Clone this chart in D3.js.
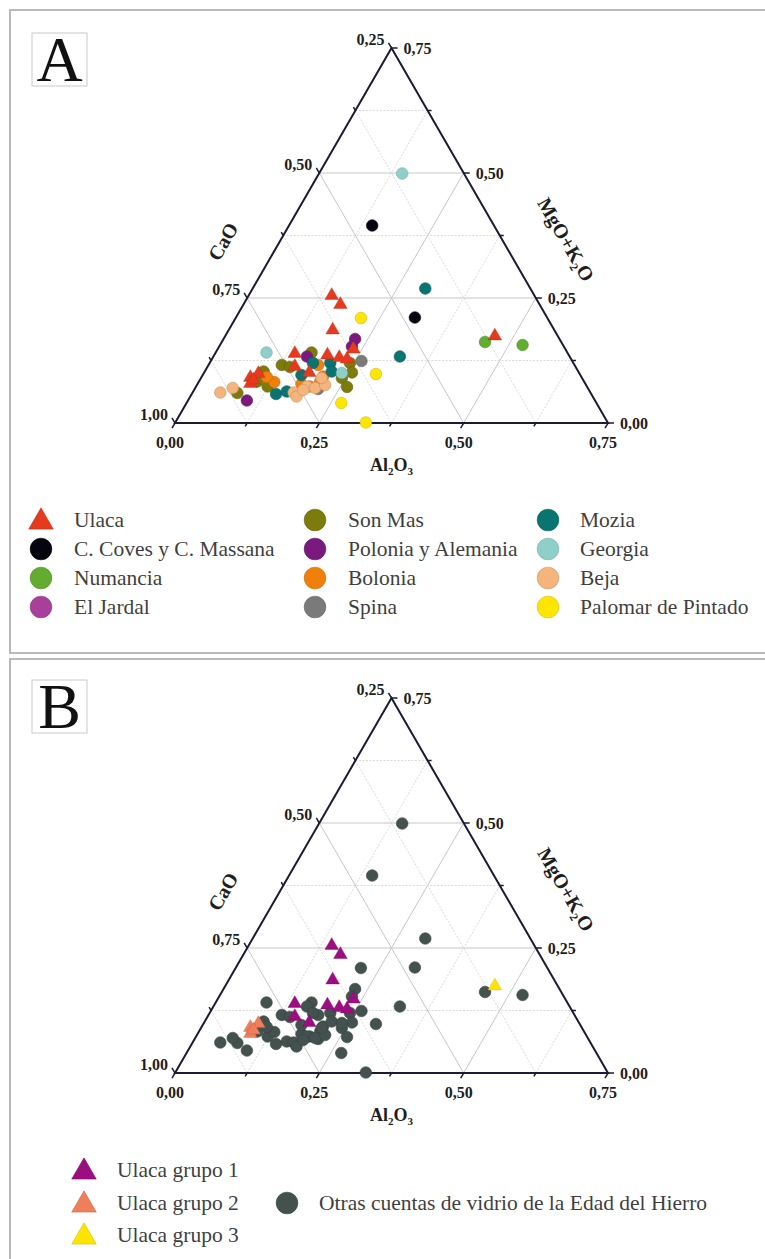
<!DOCTYPE html>
<html>
<head>
<meta charset="utf-8">
<script src="https://cdn.jsdelivr.net/npm/d3@7/dist/d3.min.js"></script>
<style>
  body { margin: 0; background: #fff; }
  svg { display: block; }
</style>
</head>
<body>
<div id="chart"></div>
<script>
// every point is [Al2O3, MgO+K2O]; CaO = 1 - Al2O3 - (MgO+K2O)
const ulacaGrupo1 = [[0.143, 0.257], [0.167, 0.239], [0.179, 0.188], [0.137, 0.141], [0.195, 0.138],
                     [0.218, 0.133], [0.233, 0.130], [0.234, 0.150], [0.150, 0.115], [0.181, 0.103]];
const ulacaGrupo2 = [[0.084, 0.093], [0.094, 0.101], [0.090, 0.081], [0.092, 0.088]];
const ulacaGrupo3 = [[0.466, 0.176]];

const coves    = [[0.144, 0.395], [0.310, 0.211]];
const numancia = [[0.456, 0.162], [0.524, 0.156]];
const jardal   = [[0.101, 0.098]];
const sonMas   = [[0.166, 0.141], [0.127, 0.116], [0.143, 0.112], [0.243, 0.120], [0.256, 0.101], [0.244, 0.090],
                  [0.262, 0.072], [0.078, 0.060], [0.101, 0.083], [0.102, 0.103], [0.124, 0.073]];
const polonia  = [[0.162, 0.133], [0.228, 0.168], [0.230, 0.153], [0.102, 0.045]];
const bolonia  = [[0.190, 0.116], [0.210, 0.093], [0.180, 0.078], [0.197, 0.073], [0.210, 0.083], [0.131, 0.082], [0.113, 0.092]];
const spina    = [[0.261, 0.124], [0.214, 0.068]];
const mozia    = [[0.299, 0.269], [0.323, 0.133], [0.171, 0.096], [0.209, 0.120], [0.220, 0.103], [0.146, 0.058],
                  [0.162, 0.063], [0.179, 0.120]];
const georgia  = [[0.144, 0.499], [0.088, 0.141], [0.239, 0.100]];
const beja     = [[0.192, 0.073], [0.208, 0.070], [0.222, 0.076], [0.175, 0.061], [0.184, 0.053], [0.189, 0.066],
                  [0.209, 0.090], [0.048, 0.061], [0.065, 0.070]];
const palomar  = [[0.217, 0.210], [0.299, 0.098], [0.268, 0.040], [0.330, 0.001]];

const sitesA  = ['Ulaca', 'C. Coves y C. Massana', 'Numancia', 'El Jardal', 'Son Mas', 'Polonia y Alemania',
                 'Bolonia', 'Spina', 'Mozia', 'Georgia', 'Beja', 'Palomar de Pintado'];
const colorsA = ['#e63a1e', '#05050f', '#62ad30', '#a8409b', '#7c7b0b', '#7b1a7e',
                 '#f07f0c', '#7a7a7a', '#0a7470', '#8fcfca', '#f5b47b', '#ffe500'];
const dataA   = [ulacaGrupo1.concat(ulacaGrupo2, ulacaGrupo3), coves, numancia, jardal, sonMas, polonia,
                 bolonia, spina, mozia, georgia, beja, palomar];

const groupsB = ['Ulaca grupo 1', 'Ulaca grupo 2', 'Ulaca grupo 3', 'Otras cuentas de vidrio de la Edad del Hierro'];
const colorsB = ['#9c0d80', '#ef7e5a', '#ffe400', '#44524f'];
const dataB   = [ulacaGrupo1, ulacaGrupo2, ulacaGrupo3, dataA.slice(1).flat()];

const tickValues = [0, 0.125, 0.25, 0.375, 0.5, 0.625, 0.75];

const serif = "'Liberation Serif', 'Times New Roman', serif";
const fmt = v => d3.format('.2f')(v).replace('.', ',');

class TernaryPanel {
    constructor(svg, config) {
        this.svg = svg;
        this.config = {
            x0: 175, y0: 423, width: 433,
            letter: 'A',
            ...config
        };
        let c = this.config;
        this.height = c.width * Math.sqrt(3) / 2;
        this.x = d3.scaleLinear().domain([0, 0.75]).range([c.x0, c.x0 + c.width]);
        this.y = d3.scaleLinear().domain([0, 0.75]).range([c.y0, c.y0 - this.height]);
        this.g = svg.append('g');
    }

    point(al, mg) {
        return [this.x(al + mg / 2), this.y(mg)];
    }

    isMajor(v) {
        return Math.abs(v / 0.25 - Math.round(v / 0.25)) < 1e-6;
    }

    drawGrid() {
        let that = this;
        let lines = [];
        tickValues.slice(1, -1).forEach(function(v) {
            let major = that.isMajor(v);
            lines.push({a: that.point(0, v), b: that.point(0.75 - v, v), major: major});
            lines.push({a: that.point(v, 0), b: that.point(v, 0.75 - v), major: major});
            lines.push({a: that.point(0, v), b: that.point(v, 0), major: major});
        });
        this.g.append('g').selectAll('line')
            .data(lines)
            .join('line')
            .attr('x1', d => d.a[0]).attr('y1', d => d.a[1])
            .attr('x2', d => d.b[0]).attr('y2', d => d.b[1])
            .attr('stroke', d => d.major ? '#c6c6c6' : '#dadada')
            .attr('stroke-width', 1)
            .attr('stroke-dasharray', d => d.major ? null : '2,1.5');
    }

    drawAxes() {
        let that = this;
        let corners = [this.point(0, 0), this.point(0.75, 0), this.point(0, 0.75)];
        this.g.append('path')
            .attr('d', 'M' + corners.join('L') + 'Z')
            .attr('fill', 'none')
            .attr('stroke', '#1c1b33')
            .attr('stroke-width', 2)
            .attr('stroke-linejoin', 'miter');

        let s3 = Math.sqrt(3) / 2;
        let axes = [
            // CaO on the left edge
            {pos: t => that.point(0, t), dir: [-0.5, -s3], value: t => 1 - t,
             label: (p, txt) => txt.attr('x', p[0] - 7).attr('y', p[1] - 3).attr('text-anchor', 'end')},
            // MgO+K2O on the right edge
            {pos: t => that.point(0.75 - t, t), dir: [1, 0], value: t => t,
             label: (p, txt) => txt.attr('x', p[0] + 12).attr('y', p[1] + 5.5).attr('text-anchor', 'start')},
            // Al2O3 on the bottom
            {pos: t => that.point(t, 0), dir: [-0.5, s3], value: t => t,
             label: (p, txt) => txt.attr('x', p[0] - 5).attr('y', p[1] + 25).attr('text-anchor', 'middle')}
        ];

        axes.forEach(function(ax) {
            tickValues.forEach(function(t) {
                let p = ax.pos(t);
                let len = that.isMajor(t) ? 6 : 4;
                that.g.append('line')
                    .attr('x1', p[0]).attr('y1', p[1])
                    .attr('x2', p[0] + ax.dir[0] * len).attr('y2', p[1] + ax.dir[1] * len)
                    .attr('stroke', '#1c1b33')
                    .attr('stroke-width', 1.5);
                if (that.isMajor(t)) {
                    let txt = that.g.append('text')
                        .attr('font-family', serif)
                        .attr('font-size', 16)
                        .attr('font-weight', 'bold')
                        .attr('fill', '#1e1e1e')
                        .text(fmt(ax.value(t)));
                    ax.label(p, txt);
                }
            });
        });

        let c = this.config;
        let title = (x, y, rot, size) => this.g.append('text')
            .attr('transform', 'translate(' + x + ',' + y + ') rotate(' + rot + ')')
            .attr('text-anchor', 'middle')
            .attr('font-family', serif)
            .attr('font-size', size)
            .attr('font-weight', 'bold')
            .attr('fill', '#1e1e1e');

        title(c.x0 + 54, c.y0 - 178, -60, 20).text('CaO');

        let mg = title(c.x0 + 385, c.y0 - 180, 60, 20);
        mg.append('tspan').text('MgO+K');
        mg.append('tspan').attr('font-size', 12).attr('dy', 4).text('2');
        mg.append('tspan').attr('dy', -4).text('O');

        let al = title(this.x(0.375), c.y0 + 48, 0, 18);
        al.append('tspan').text('Al');
        al.append('tspan').attr('font-size', 11).attr('dy', 4).text('2');
        al.append('tspan').attr('dy', -4).text('O');
        al.append('tspan').attr('font-size', 11).attr('dy', 4).text('3');
    }

    drawPoints(groups, colors, shapes) {
        let that = this;
        let marks = [];
        groups.forEach(function(data, i) {
            data.forEach(d => marks.push({p: that.point(d[0], d[1]), color: colors[i], shape: shapes[i]}));
        });
        // circles below, triangles on top
        marks.sort((a, b) => (a.shape === 'triangle') - (b.shape === 'triangle'));

        let tri = d3.symbol(d3.symbolTriangle, 80);
        this.g.append('g').selectAll('path')
            .data(marks)
            .join('path')
            .attr('transform', d => 'translate(' + d.p[0] + ',' + (d.p[1] + (d.shape === 'triangle' ? 1 : 0)) + ')')
            .attr('d', d => d.shape === 'triangle' ? tri() : d3.symbol(d3.symbolCircle, 106)())
            .attr('fill', d => d.color)
            .attr('stroke', d => d3.color(d.color).darker(0.6))
            .attr('stroke-width', d => d.shape === 'triangle' ? 0.4 : 0.6);
    }

    drawLetter(x, y) {
        this.g.append('rect')
            .attr('x', x).attr('y', y)
            .attr('width', 55).attr('height', 53)
            .attr('fill', '#fff')
            .attr('stroke', '#c9c9c9')
            .attr('stroke-width', 1);
        this.g.append('text')
            .attr('x', x + 27.5).attr('y', y + 48)
            .attr('text-anchor', 'middle')
            .attr('font-family', serif)
            .attr('font-size', 64)
            .attr('fill', '#111')
            .text(this.config.letter);
    }
}

function legendItem(svg, x, y, textX, name, color, shape) {
    let sym = shape === 'triangle'
        ? d3.symbol(d3.symbolTriangle, 260)
        : d3.symbol(d3.symbolCircle, 370);
    svg.append('path')
        .attr('transform', 'translate(' + x + ',' + (y + (shape === 'triangle' ? 2 : 0)) + ')')
        .attr('d', sym())
        .attr('fill', color)
        .attr('stroke', d3.color(color).darker(0.5))
        .attr('stroke-width', 0.6);
    svg.append('text')
        .attr('x', textX).attr('y', y + 7)
        .attr('font-family', serif)
        .attr('font-size', 21.5)
        .attr('fill', '#3f3f3f')
        .text(name);
}

const svg = d3.select('#chart').append('svg')
    .attr('width', 765)
    .attr('height', 1259);

// panel frames
svg.append('rect').attr('x', 10).attr('y', 10).attr('width', 800).attr('height', 643)
    .attr('fill', 'none').attr('stroke', '#b9b9bd').attr('stroke-width', 2);
svg.append('rect').attr('x', 10).attr('y', 659).attr('width', 800).attr('height', 660)
    .attr('fill', 'none').attr('stroke', '#b9b9bd').attr('stroke-width', 2);

const panelA = new TernaryPanel(svg, {y0: 423, letter: 'A'});
panelA.drawGrid();
panelA.drawAxes();
panelA.drawPoints(dataA, colorsA, sitesA.map((s, i) => i === 0 ? 'triangle' : 'circle'));
panelA.drawLetter(32, 33);

const panelB = new TernaryPanel(svg, {y0: 1073, letter: 'B'});
panelB.drawGrid();
panelB.drawAxes();
panelB.drawPoints(dataB, colorsB, ['triangle', 'triangle', 'triangle', 'circle']);
panelB.drawLetter(32, 680);

// legend A, three columns of four
const colX = [41, 315, 548];
const colTextX = [74, 348, 580];
sitesA.forEach(function(name, i) {
    let col = Math.floor(i / 4), row = i % 4;
    legendItem(svg, colX[col], 520 + row * 29, colTextX[col], name, colorsA[i], i === 0 ? 'triangle' : 'circle');
});

// legend B
const legendBPos = [[84, 1170, 117], [84, 1203, 117], [84, 1235, 117], [287, 1203, 319]];
groupsB.forEach(function(name, i) {
    let p = legendBPos[i];
    legendItem(svg, p[0], p[1], p[2], name, colorsB[i], i < 3 ? 'triangle' : 'circle');
});
</script>
</body>
</html>
